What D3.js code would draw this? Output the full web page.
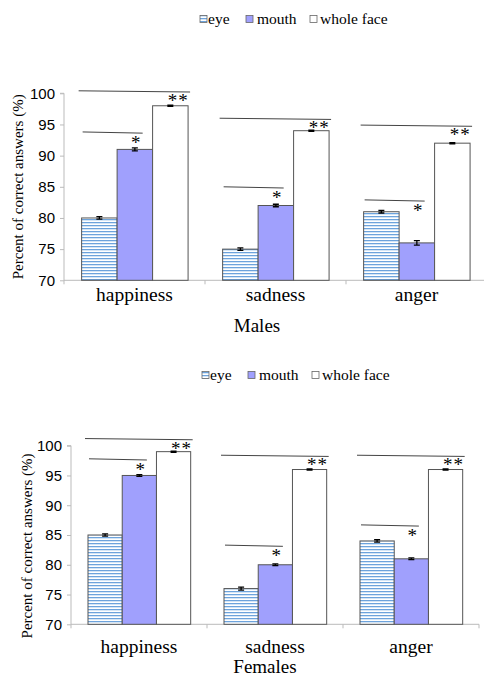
<!DOCTYPE html>
<html><head><meta charset="utf-8">
<script src="https://cdn.jsdelivr.net/npm/d3@7"></script>
<style>body{margin:0;background:#fff}svg{display:block}
.serif{font-family:"Liberation Serif","Times New Roman",Times,serif}
.sans{font-family:"Liberation Sans",Arial,Helvetica,sans-serif}
</style>
</head><body>
<script>
const categories = ["happiness", "sadness", "anger"];
const seriesNames = ["eye", "mouth", "whole face"];
const yTicks = [70, 75, 80, 85, 90, 95, 100];

// Males
const malesEye = [80, 75, 81];
const malesMouth = [91, 82, 76];
const malesWhole = [98, 94, 92];
const malesEyeErr = [0.2, 0.2, 0.2];
const malesMouthErr = [0.25, 0.2, 0.35];
const malesWholeErr = [0.1, 0.1, 0.1];
const malesLongSig = [100.4, 96.0, 94.9];
const malesShortSig = [93.8, 85.0, 82.9];

// Females
const femalesEye = [85, 76, 84];
const femalesMouth = [95, 80, 81];
const femalesWhole = [99, 96, 96];
const femalesEyeErr = [0.2, 0.25, 0.2];
const femalesMouthErr = [0.15, 0.15, 0.15];
const femalesWholeErr = [0.1, 0.1, 0.1];
const femalesLongSig = [101.2, 98.4, 98.4];
const femalesShortSig = [97.8, 83.3, 86.7];

const W = 484, H = 677;
const svg = d3.select("body").append("svg").attr("width", W).attr("height", H);
const defs = svg.append("defs");
const pat = defs.append("pattern").attr("id", "stripes").attr("patternUnits", "userSpaceOnUse")
  .attr("width", 6).attr("height", 3);
pat.append("rect").attr("width", 6).attr("height", 3).attr("fill", "#fff");
pat.append("rect").attr("y", 0).attr("width", 6).attr("height", 1).attr("fill", "#6da3dc");
pat.append("rect").attr("y", 1).attr("width", 6).attr("height", 1).attr("fill", "#d4e5f6");

const fills = ["url(#stripes)", "#a0a0fd", "#ffffff"];

function drawLegend(x0, y) {
  const g = svg.append("g");
  const offs = [[0, 8], [46, 57], [110, 120]];
  seriesNames.forEach((s, i) => {
    g.append("rect").attr("x", x0 + offs[i][0]).attr("y", y - 3.5).attr("width", 7).attr("height", 7)
      .attr("fill", fills[i]).attr("stroke", "#666").attr("stroke-width", 0.8);
    g.append("text").attr("class", "serif").attr("x", x0 + offs[i][1]).attr("y", y + 5).text(s)
      .style("font-size", "15.5px").attr("fill", "#000");
  });
}

function drawChart(cfg) {
  const g = svg.append("g");
  const x = d3.scaleBand().domain(categories).range([cfg.left, cfg.right]).padding(0);
  const bw = x.bandwidth();
  const xs = d3.scaleBand().domain(seriesNames).range([0.125 * bw, 0.88 * bw]).padding(0);
  const y = d3.scaleLinear().domain([70, 100]).range([cfg.bottom, cfg.top]);
  const vals = [cfg.eye, cfg.mouth, cfg.whole];
  const errs = [cfg.eyeErr, cfg.mouthErr, cfg.wholeErr];

  const ya = g.append("g").attr("transform", `translate(${cfg.left},0)`)
    .call(d3.axisLeft(y).tickValues(yTicks).tickSize(4).tickPadding(5));
  ya.attr("font-family", null).attr("font-size", null);
  ya.select(".domain").attr("stroke", "#bbb").attr("d", `M-4,${cfg.top}H0V${cfg.bottom + 4}`);
  ya.selectAll(".tick line").attr("stroke", "#bbb");
  ya.selectAll(".tick text").attr("class", "sans").style("font-size", "15px").attr("fill", "#000");

  const xa = g.append("g").attr("transform", `translate(0,${cfg.bottom})`)
    .call(d3.axisBottom(x).tickSize(0).tickFormat(""));
  xa.select(".domain").attr("stroke", "#bbb").attr("d", `M${cfg.left},0H${cfg.right}`);
  const bounds = categories.slice(1).map(c => x(c)).concat([cfg.right]);
  g.selectAll(".sep").data(bounds).join("line")
    .attr("x1", d => d).attr("x2", d => d).attr("y1", cfg.bottom).attr("y2", cfg.bottom + 4)
    .attr("stroke", "#bbb");

  seriesNames.forEach((s, si) => {
    g.selectAll(null).data(categories).join("rect")
      .attr("x", c => x(c) + xs(s)).attr("width", xs.bandwidth())
      .attr("y", (c, i) => y(vals[si][i])).attr("height", (c, i) => cfg.bottom - y(vals[si][i]))
      .attr("fill", fills[si]).attr("stroke", "#555").attr("stroke-width", 1);
    g.selectAll(null).data(categories).join("path")
      .attr("d", (c, i) => {
        const cx = x(c) + xs(s) + xs.bandwidth() / 2;
        const v = vals[si][i], e = errs[si][i];
        const y1 = y(v + e), y2 = y(v - e);
        return `M${cx - 3},${y1}H${cx + 3}M${cx},${y1}V${y2}M${cx - 3},${y2}H${cx + 3}`;
      })
      .attr("stroke", "#000").attr("stroke-width", 1.3).attr("fill", "none");
  });

  categories.forEach((c, i) => {
    const ex = x(c) + xs("eye"), mx = x(c) + xs("mouth"), wx = x(c) + xs("whole face");
    const w = xs.bandwidth();
    const ly = y(cfg.longSig[i]), sy = y(cfg.shortSig[i]);
    g.append("line").attr("x1", ex - 3).attr("x2", wx + w + 2).attr("y1", ly).attr("y2", ly + 1.2)
      .attr("stroke", "#444").attr("stroke-width", 1);
    g.append("line").attr("x1", ex + 1).attr("x2", mx + 0.72 * w).attr("y1", sy).attr("y2", sy + 1.2)
      .attr("stroke", "#444").attr("stroke-width", 1);
    g.append("text").attr("class", "serif").attr("x", mx + w / 2 + 1).attr("y", sy + 17).attr("text-anchor", "middle")
      .style("font-size", "19px").text("*");
    g.append("text").attr("class", "serif").attr("x", wx + w / 2 + 8).attr("y", ly + 16).attr("text-anchor", "middle")
      .style("font-size", "19px").style("letter-spacing", "1px").text("**");
  });

  g.selectAll(null).data(categories).join("text").attr("class", "serif")
    .attr("x", c => x(c) + bw / 2).attr("y", cfg.catY).attr("text-anchor", "middle")
    .style("font-size", "19.5px").text(c => c);

  g.append("text").attr("class", "serif").attr("x", cfg.titleX).attr("y", cfg.titleY).attr("text-anchor", "middle")
    .style("font-size", "19px").text(cfg.title);

  g.append("text").attr("class", "serif")
    .attr("transform", `translate(${cfg.ylabX},${(cfg.top + cfg.bottom) / 2 + cfg.ylabDy}) rotate(-90)`)
    .attr("text-anchor", "middle").style("font-size", "15px")
    .text("Percent of correct answers (%)");
}

drawLegend(200, 19);
drawChart({
  left: 64, right: 487, top: 93.3, bottom: 280.3,
  eye: malesEye, mouth: malesMouth, whole: malesWhole,
  eyeErr: malesEyeErr, mouthErr: malesMouthErr, wholeErr: malesWholeErr,
  longSig: malesLongSig, shortSig: malesShortSig,
  catY: 301, title: "Males", titleX: 257, titleY: 332, ylabX: 23, ylabDy: 0
});
drawLegend(202, 375);
drawChart({
  left: 71, right: 479, top: 445.7, bottom: 624.3,
  eye: femalesEye, mouth: femalesMouth, whole: femalesWhole,
  eyeErr: femalesEyeErr, mouthErr: femalesMouthErr, wholeErr: femalesWholeErr,
  longSig: femalesLongSig, shortSig: femalesShortSig,
  catY: 653, title: "Females", titleX: 265, titleY: 673, ylabX: 32, ylabDy: 11
});
</script>
</body></html>
